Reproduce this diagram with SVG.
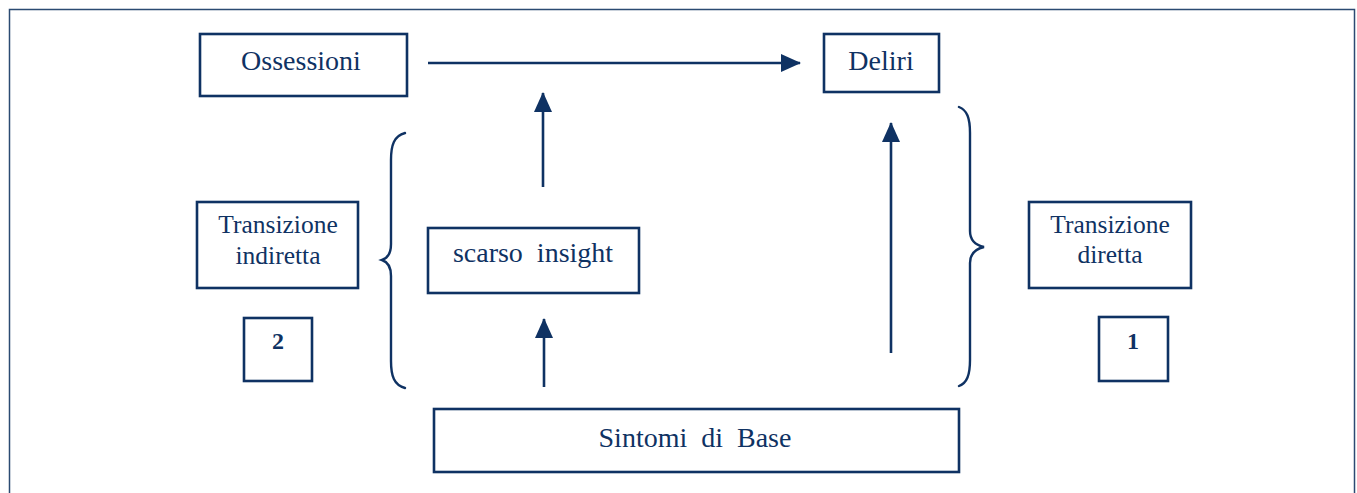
<svg xmlns="http://www.w3.org/2000/svg" width="1357" height="493" viewBox="0 0 1357 493">
  <style>
    .box { fill: #ffffff; stroke: #0f3263; stroke-width: 2.6; }
    .lbl { font-family: "Liberation Serif", "Times New Roman", serif; fill: #0f3263; text-anchor: middle; white-space: pre; }
    .big { font-size: 28px; }
    .mid { font-size: 25.5px; }
    .num { font-size: 24px; font-weight: bold; }
    .wire { fill: none; stroke: #0f3263; stroke-width: 2.6; }
    .brace { fill: none; stroke: #0f3263; stroke-width: 2.4; stroke-linecap: round; }
  </style>
  <defs>
    <marker id="arrow" markerUnits="userSpaceOnUse" markerWidth="20" markerHeight="18" refX="19" refY="9" orient="auto">
      <path d="M0,0 L20,9 L0,18 Z" fill="#0f3263"/>
    </marker>
  </defs>

  <rect width="1357" height="493" fill="#ffffff"/>
  <!-- outer frame -->
  <rect x="9.5" y="9.5" width="1345" height="500" fill="none" stroke="#2b4a72" stroke-width="1.5"/>

  <g id="ossessioni">
    <rect class="box" x="200" y="34" width="207" height="62"/>
    <text class="lbl big" x="301" y="70">Ossessioni</text>
  </g>

  <g id="deliri">
    <rect class="box" x="824" y="34" width="115" height="58"/>
    <text class="lbl big" x="881" y="70">Deliri</text>
  </g>

  <g id="transizione-indiretta">
    <rect class="box" x="197" y="202" width="161" height="86"/>
    <text class="lbl mid" x="278" y="233">Transizione</text>
    <text class="lbl mid" x="278" y="264">indiretta</text>
  </g>

  <g id="label-2">
    <rect class="box" x="244" y="318" width="68" height="63"/>
    <text class="lbl num" x="278" y="349">2</text>
  </g>

  <g id="scarso-insight">
    <rect class="box" x="428" y="228" width="211" height="65"/>
    <text class="lbl big" x="533" y="262">scarso  insight</text>
  </g>

  <g id="transizione-diretta">
    <rect class="box" x="1029" y="202" width="162" height="86"/>
    <text class="lbl mid" x="1110" y="233">Transizione</text>
    <text class="lbl mid" x="1110" y="263">diretta</text>
  </g>

  <g id="label-1">
    <rect class="box" x="1099" y="317" width="69" height="64"/>
    <text class="lbl num" x="1133" y="349">1</text>
  </g>

  <g id="sintomi-di-base">
    <rect class="box" x="434" y="409" width="525" height="63"/>
    <text class="lbl big" x="695" y="447">Sintomi  di  Base</text>
  </g>

  <g id="braces">
    <path class="brace" d="M405,133 C394,136 391,145 391,160 L391,244 C391,253 388,258 382,260 C388,262 391,267 391,276 L391,361 C391,376 394,385 405,388"/>
    <path class="brace" d="M959,107 C967,110 970,118 970,133 L970,231 C970,240 975,245 984,247 C975,249 970,254 970,263 L970,360 C970,375 967,383 959,386"/>
  </g>

  <g id="connectors">
    <line class="wire" x1="428" y1="63" x2="800" y2="63" marker-end="url(#arrow)"/>
    <line class="wire" x1="543" y1="187" x2="543" y2="93" marker-end="url(#arrow)"/>
    <line class="wire" x1="544" y1="387" x2="544" y2="319" marker-end="url(#arrow)"/>
    <line class="wire" x1="891" y1="353" x2="891" y2="123" marker-end="url(#arrow)"/>
  </g>
</svg>
